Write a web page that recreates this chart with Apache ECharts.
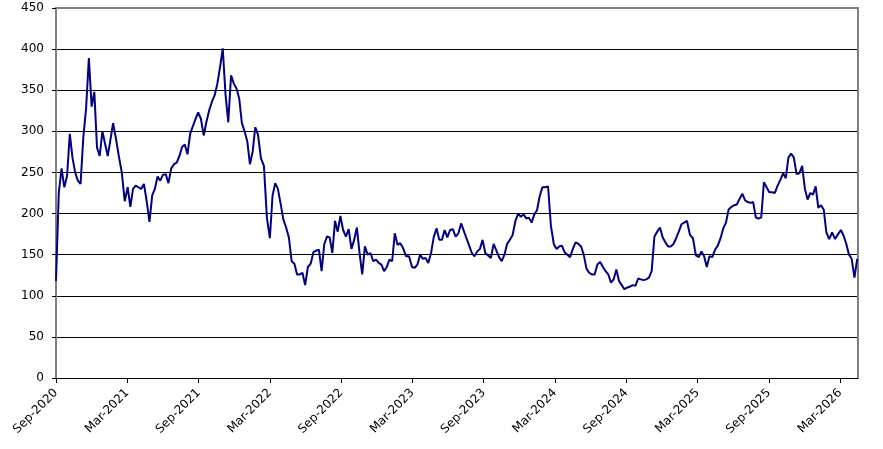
<!DOCTYPE html>
<html>
<head>
<meta charset="utf-8">
<script src="https://cdn.jsdelivr.net/npm/echarts@6/dist/echarts.min.js"></script>
<style>html,body{margin:0;padding:0;background:#fff;}#chart{width:883px;height:449px;}#dbg{position:absolute;left:80px;top:300px;width:780px;font:12px monospace;color:red;}</style>
</head>
<body>
<div id="chart"></div>
<div id="dbg"></div>
<script>
window.onerror = function (m, s, l, c, e) { document.getElementById('dbg').textContent += ' WIN:' + m; };
// Weekly readings, first week starting 2020-09-01
const startDate = '2020-09-01';
const stepDays = 7;
const values = [
  118,225,255,232,246,297,268,250,240,236,293,328,389,330,348,280,270,300,285,270,
  290,310,292,270,250,215,232,208,230,234,232,230,236,215,190,222,230,245,240,247,
  248,237,255,260,262,270,281,284,272,297,306,315,323,315,295,312,326,336,344,358,
  378,401,345,311,368,358,352,340,310,300,288,260,275,305,296,267,258,195,170,222,
  237,230,212,193,183,171,142,139,126,126,128,113,135,139,153,155,156,130,163,172,
  171,152,191,178,197,180,172,181,157,168,183,152,126,160,150,152,142,144,140,138,
  130,135,144,142,176,162,164,158,148,148,135,134,138,150,145,146,140,152,172,182,
  168,168,180,171,180,181,172,176,188,179,170,161,152,148,154,157,168,152,149,146,
  163,155,147,142,150,163,168,174,191,200,196,199,194,195,189,199,204,221,232,232,
  233,185,163,157,160,161,153,150,147,157,165,163,160,150,133,128,126,126,138,141,
  135,130,126,116,120,132,118,113,108,110,111,113,112,121,120,119,120,122,130,172,
  178,183,171,165,160,160,163,170,178,187,189,191,174,170,149,147,154,148,135,148,
  147,156,161,170,182,189,205,208,210,211,218,224,216,214,213,214,195,194,195,238,
  232,226,226,225,234,241,249,243,268,273,268,248,249,258,230,217,225,223,233,207,
  210,205,177,169,177,169,175,180,173,163,150,145,122,145
];
const monthNames = ['Jan','Feb','Mar','Apr','May','Jun','Jul','Aug','Sep','Oct','Nov','Dec'];
function monthIndex(d) {
  const y = d.getUTCFullYear(), m = d.getUTCMonth(), day = d.getUTCDate();
  const dim = new Date(Date.UTC(y, m + 1, 0)).getUTCDate();
  return (y - 2020) * 12 + (m - 8) + (day - 1) / dim;
}
const t0 = Date.parse(startDate + 'T00:00:00Z');
const data = values.map((v, i) => [monthIndex(new Date(t0 + i * stepDays * 86400000)), v]);
const chart = echarts.init(document.getElementById('chart'));
try {
chart.setOption({
  animation: false,
  grid: {left: 56, right: 25, top: 8, bottom: 71},
  xAxis: [{
    type: 'value', min: 0, max: 67.5, interval: 6, position: 'bottom',
    axisLine: {show: true, onZero: false, lineStyle: {color: '#000000', width: 1}},
    axisTick: {show: true, length: 5, lineStyle: {color: '#000000'}},
    splitLine: {show: false},
    axisLabel: {
      rotate: 45, margin: 13, color: '#000000', fontFamily: 'DejaVu Sans', fontSize: 12,
      showMaxLabel: false,
      formatter: function (v) {
        const total = 8 + Math.round(v);
        return monthNames[total % 12] + '-' + (2020 + Math.floor(total / 12));
      }
    }
  }, {
    type: 'value', min: 0, max: 67.5, position: 'top',
    axisLine: {show: true, onZero: false, lineStyle: {color: '#808080', width: 2}},
    axisTick: {show: false}, axisLabel: {show: false}, splitLine: {show: false}
  }],
  yAxis: [{
    type: 'value', min: 0, max: 450, interval: 50, position: 'left',
    axisLine: {show: true, onZero: false, lineStyle: {color: '#808080', width: 2}},
    axisTick: {show: true, length: 4, lineStyle: {color: '#000000'}},
    splitLine: {show: true, lineStyle: {color: '#000000', width: 1}},
    axisLabel: {color: '#000000', fontFamily: 'DejaVu Sans', fontSize: 12, margin: 12}
  }, {
    type: 'value', min: 0, max: 450, interval: 50, position: 'right',
    axisLine: {show: true, onZero: false, lineStyle: {color: '#808080', width: 2}},
    axisTick: {show: false}, axisLabel: {show: false}, splitLine: {show: false}
  }],
  series: [{
    type: 'line', data: data, showSymbol: false, symbol: 'none',
    xAxisIndex: 0, yAxisIndex: 0,
    lineStyle: {color: '#000080', width: 2}
  }]
});
} catch (e) { document.getElementById('dbg').textContent += ' CATCH:' + e.message; }
setTimeout(function () {
  const zr = chart.getZr();
  let n = 0, types = {};
  zr.storage.getDisplayList(true).forEach(function (el) { n++; types[el.type] = (types[el.type] || 0) + 1; });
  if (!types.line || types.line < 20) {
    document.getElementById('dbg').textContent += ' els=' + n + ' ' + JSON.stringify(types);
  }
}, 50);
</script>
</body>
</html>
